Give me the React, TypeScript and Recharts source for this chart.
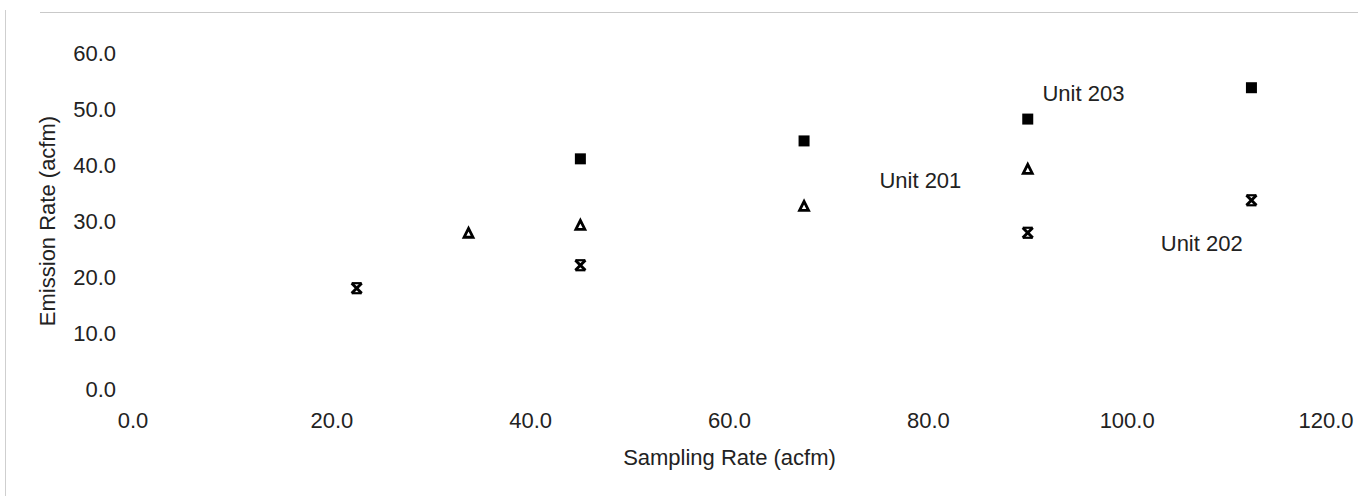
import React from "react";
import {
  ScatterChart,
  Scatter,
  XAxis,
  YAxis,
  ReferenceDot,
  Label,
} from "recharts";

// ---- data ----
const unit201X = [33.75, 45, 67.5, 90];
const unit201Y = [27.9, 29.3, 32.7, 39.3];

const unit202X = [22.5, 45, 90, 112.5];
const unit202Y = [18.0, 22.1, 27.9, 33.7];

const unit203X = [45, 67.5, 90, 112.5];
const unit203Y = [41.1, 44.3, 48.2, 53.8];

const xTicks = [0, 20, 40, 60, 80, 100, 120];
const yTicks = [0, 10, 20, 30, 40, 50, 60];

const seriesLabels = ["Unit 201", "Unit 202", "Unit 203"];
const labelX = [79.2, 107.5, 95.6];
const labelY = [37.3, 26.1, 52.9];

const toPoints = (xs: number[], ys: number[]) =>
  xs.map((x, i) => ({ x, y: ys[i] }));

const data201 = toPoints(unit201X, unit201Y);
const data202 = toPoints(unit202X, unit202Y);
const data203 = toPoints(unit203X, unit203Y);

const FONT = "'Liberation Sans', Arial, Helvetica, sans-serif";
const TEXT = "#222";
const FS = 22;

const SquareShape = (props: any) => {
  const { cx, cy } = props;
  if (cx == null || cy == null) return null;
  const s = 11;
  return <rect x={cx - s / 2} y={cy - s / 2} width={s} height={s} fill="#000" />;
};

const TriangleShape = (props: any) => {
  const { cx, cy } = props;
  if (cx == null || cy == null) return null;
  const w = 9;
  const h = 9;
  return (
    <polygon
      points={`${cx},${cy - h / 2} ${cx + w / 2},${cy + h / 2} ${cx - w / 2},${cy + h / 2}`}
      fill="#fff"
      stroke="#000"
      strokeWidth={2.8}
      strokeLinejoin="miter"
    />
  );
};

const StarShape = (props: any) => {
  const { cx, cy } = props;
  if (cx == null || cy == null) return null;
  const r = 5;
  return (
    <g stroke="#000" strokeWidth={3} fill="none">
      <line x1={cx - r} y1={cy - r} x2={cx + r} y2={cy + r} />
      <line x1={cx - r} y1={cy + r} x2={cx + r} y2={cy - r} />
      <line x1={cx - r} y1={cy - r} x2={cx + r} y2={cy - r} strokeWidth={2.2} />
      <line x1={cx - r} y1={cy + r} x2={cx + r} y2={cy + r} strokeWidth={2.2} />
    </g>
  );
};

const tickStyle = { fill: TEXT, fontSize: FS, fontFamily: FONT };

export default function App() {
  return (
    <div
      style={{
        position: "absolute",
        left: 0,
        top: 0,
        width: 1358,
        height: 496,
        background: "#fff",
        overflow: "hidden",
      }}
    >
      <div
        style={{
          position: "absolute",
          left: 40,
          top: 12,
          width: 1318,
          height: 0,
          borderTop: "1px solid #c9c9c9",
        }}
      />
      <div
        style={{
          position: "absolute",
          left: 5,
          top: 10,
          width: 0,
          height: 486,
          borderLeft: "1px solid #cfcfcf",
        }}
      />
      <ScatterChart
        width={1358}
        height={496}
        margin={{ top: 53, right: 32, bottom: 0, left: 0 }}
        style={{ position: "absolute", left: 0, top: 0 }}
      >
        <XAxis
          type="number"
          dataKey="x"
          domain={[0, 120]}
          ticks={xTicks}
          tickFormatter={(v: number) => v.toFixed(1)}
          axisLine={false}
          tickLine={false}
          tickSize={0}
          tickMargin={23}
          height={107}
          tick={tickStyle}
          interval={0}
        >
          <Label
            value="Sampling Rate (acfm)"
            position="insideBottom"
            offset={31}
            style={{ fill: TEXT, fontSize: FS, fontFamily: FONT }}
          />
        </XAxis>
        <YAxis
          type="number"
          dataKey="y"
          domain={[0, 60]}
          ticks={yTicks}
          tickFormatter={(v: number) => v.toFixed(1)}
          axisLine={false}
          tickLine={false}
          tickSize={0}
          tickMargin={17}
          width={133}
          tick={tickStyle}
          interval={0}
        >
          <Label
            content={(p: any) => {
              const vb = p.viewBox || {};
              const x = (vb.x || 0) + 47;
              const y = (vb.y || 0) + (vb.height || 0) / 2;
              return (
                <text
                  x={x}
                  y={y}
                  transform={`rotate(-90, ${x}, ${y})`}
                  textAnchor="middle"
                  dominantBaseline="central"
                  fill={TEXT}
                  fontSize={FS}
                  fontFamily={FONT}
                >
                  Emission Rate (acfm)
                </text>
              );
            }}
          />
        </YAxis>
        <Scatter
          name="Unit 201"
          data={data201}
          shape={TriangleShape}
          isAnimationActive={false}
        />
        <Scatter
          name="Unit 202"
          data={data202}
          shape={StarShape}
          isAnimationActive={false}
        />
        <Scatter
          name="Unit 203"
          data={data203}
          shape={SquareShape}
          isAnimationActive={false}
        />
        {seriesLabels.map((name, i) => (
          <ReferenceDot
            key={name}
            x={labelX[i]}
            y={labelY[i]}
            r={0}
            fill="none"
            stroke="none"
            ifOverflow="visible"
          >
            <Label
              value={name}
              position="center"
              style={{ fill: TEXT, fontSize: FS, fontFamily: FONT }}
            />
          </ReferenceDot>
        ))}
      </ScatterChart>
    </div>
  );
}
